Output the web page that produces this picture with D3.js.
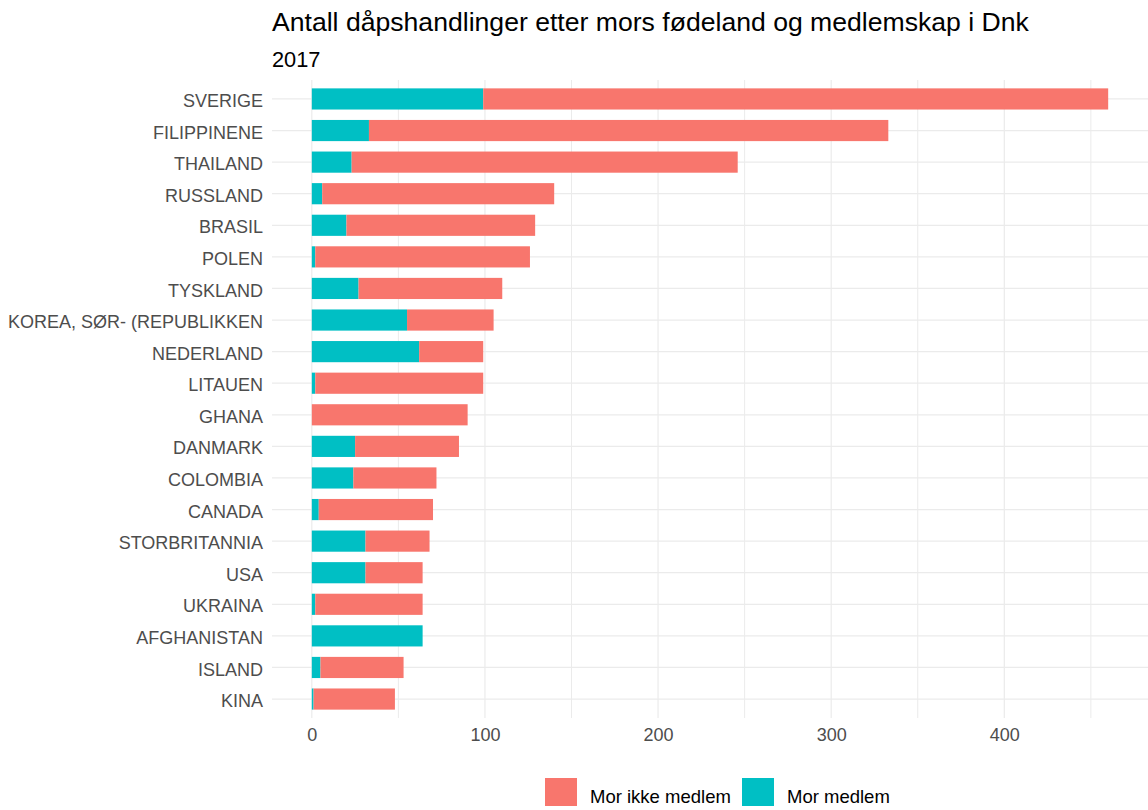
<!DOCTYPE html>
<html><head><meta charset="utf-8">
<script src="https://cdn.jsdelivr.net/npm/d3@7"></script>
<style>body{margin:0;background:#fff;} text{font-family:"Liberation Sans",Arial,sans-serif;}</style>
</head><body>
<svg id="c" width="1148" height="810"></svg>
<script>
const countries = ["SVERIGE","FILIPPINENE","THAILAND","RUSSLAND","BRASIL","POLEN","TYSKLAND","KOREA, SØR- (REPUBLIKKEN","NEDERLAND","LITAUEN","GHANA","DANMARK","COLOMBIA","CANADA","STORBRITANNIA","USA","UKRAINA","AFGHANISTAN","ISLAND","KINA"];
const total   = [460,333,246,140,129,126,110,105,99,99,90,85,72,70,68,64,64,64,53,48];
const medlem  = [99,33,23,6,20,2,27,55,62,2,0,25,24,4,31,31,2,64,5,1];
const seriesNames = ["Mor ikke medlem","Mor medlem"];
const colors = ["#F8766D","#00BFC4"];
const xTicks = [0,100,200,300,400];
const xMinor = [50,150,250,350,450];
const title = "Antall dåpshandlinger etter mors fødeland og medlemskap i Dnk";
const subtitle = "2017";

const svg = d3.select("#c");
const L = 272, R = 1148, T = 80, B = 718;
const x = d3.scaleLinear().domain([-23, 483]).range([L, R]);
const n = countries.length;
const step = (B - T) / (n - 1 + 1.2);
const yc = d3.scalePoint().domain(countries).range([T + 0.6*step, B - 0.6*step]);
const bh = step * 0.67;

const g = svg.append("g");
g.selectAll("line.minor").data(xMinor).join("line")
  .attr("x1", d=>x(d)).attr("x2", d=>x(d)).attr("y1", T).attr("y2", B)
  .attr("stroke", "#ebebeb").attr("stroke-width", 1);
g.selectAll("line.major").data(xTicks).join("line")
  .attr("x1", d=>x(d)).attr("x2", d=>x(d)).attr("y1", T).attr("y2", B)
  .attr("stroke", "#ebebeb").attr("stroke-width", 1.2);
g.selectAll("line.hgrid").data(countries).join("line")
  .attr("x1", L).attr("x2", R).attr("y1", d=>yc(d)).attr("y2", d=>yc(d))
  .attr("stroke", "#ebebeb").attr("stroke-width", 1.2);

const rows = countries.map((c,i)=>({c, med: medlem[i], ikke: total[i]-medlem[i]}));
g.selectAll("rect.med").data(rows).join("rect")
  .attr("x", x(0)).attr("width", d=>x(d.med)-x(0))
  .attr("y", d=>yc(d.c)-bh/2).attr("height", bh).attr("fill", colors[1]);
g.selectAll("rect.ikke").data(rows).join("rect")
  .attr("x", d=>x(d.med)).attr("width", d=>x(d.med+d.ikke)-x(d.med))
  .attr("y", d=>yc(d.c)-bh/2).attr("height", bh).attr("fill", colors[0]);

const xa = svg.append("g").attr("transform", `translate(0,${B})`)
  .call(d3.axisBottom(x).tickValues(xTicks).tickSize(0).tickPadding(10));
xa.select(".domain").remove();
xa.selectAll("text").attr("fill", "#4d4d4d").style("font-size", "18px");

const ya = svg.append("g").attr("transform", `translate(${L},0)`)
  .call(d3.axisLeft(yc).tickSize(0).tickPadding(9));
ya.select(".domain").remove();
ya.selectAll("text").attr("fill", "#4d4d4d").attr("dy", "0.42em").style("font-size", "18px");

svg.append("text").attr("x", 272).attr("y", 31).text(title)
  .style("font-size", "26.6px").attr("fill", "#000");
svg.append("text").attr("x", 272).attr("y", 67).text(subtitle)
  .style("font-size", "21.8px").attr("fill", "#000");

const lg = svg.append("g");
const keys = [{n: seriesNames[0], c: colors[0], x: 545}, {n: seriesNames[1], c: colors[1], x: 742}];
lg.selectAll("rect").data(keys).join("rect")
  .attr("x", d=>d.x).attr("y", 778).attr("width", 32).attr("height", 28).attr("fill", d=>d.c);
lg.selectAll("text").data(keys).join("text")
  .attr("x", d=>d.x+45).attr("y", 803).text(d=>d.n)
  .style("font-size", "18.5px").attr("fill", "#000");
</script>
</body></html>
